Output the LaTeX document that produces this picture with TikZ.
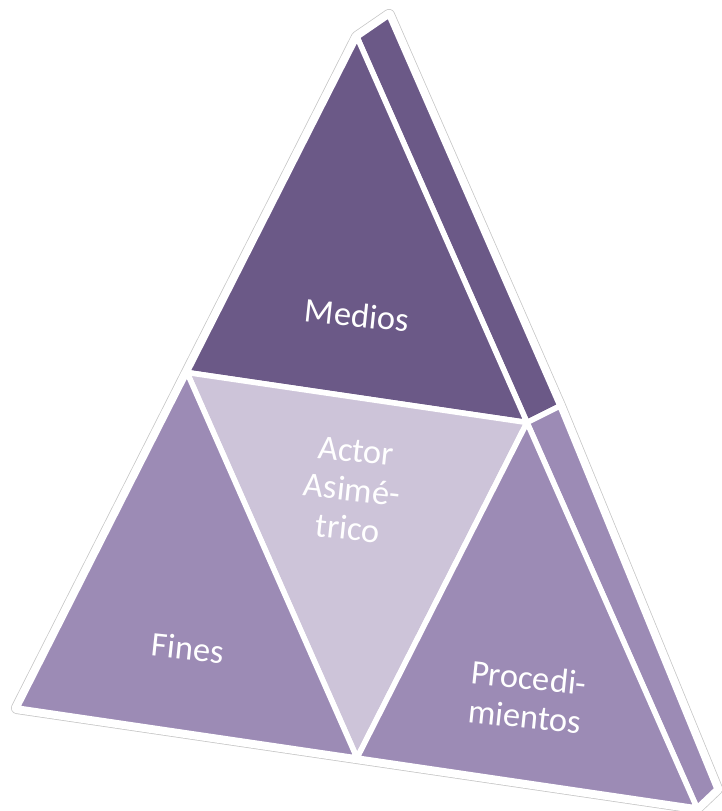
\documentclass[tikz,border=0pt]{standalone}
\usepackage{fontspec}
\setmainfont{Carlito}
\definecolor{darkp}{HTML}{6B5987}
\definecolor{medp}{HTML}{9C8BB5}
\definecolor{lightp}{HTML}{CDC4D9}
\begin{document}
\begin{tikzpicture}[x=1pt,y=-1pt,
  tile/.style={draw=white,line width=5.5pt,line join=round},
  lbl/.style={text=white,font=\fontsize{34.5}{39}\selectfont,align=center,rotate=-6,inner sep=0pt}]
\useasboundingbox (0,0) rectangle (722,811);
% vertices
\coordinate (A) at (357,37);
\coordinate (L) at (17,708);
\coordinate (R) at (697,808);
\coordinate (P) at (187,372.5);
\coordinate (Q) at (527,422.5);
\coordinate (M) at (357,758);
\coordinate (A2) at (389,15);
\coordinate (Q2) at (560,406);
\coordinate (R2) at (717,789);
% outer silhouette outline
\draw[gray!45,line width=12pt,line join=round] (A) -- (A2) -- (Q2) -- (R2) -- (R) -- (L) -- cycle;
\draw[white,fill=white,line width=10.5pt,line join=round] (A) -- (A2) -- (Q2) -- (R2) -- (R) -- (L) -- cycle;
% side faces
\fill[darkp,tile] (A) -- (A2) -- (Q2) -- (Q) -- cycle;
\fill[medp,tile] (Q) -- (Q2) -- (R2) -- (R) -- cycle;
% front tiles
\fill[darkp,tile] (A) -- (P) -- (Q) -- cycle;
\fill[lightp,tile] (P) -- (Q) -- (M) -- cycle;
\fill[medp,tile] (P) -- (L) -- (M) -- cycle;
\fill[medp,tile] (Q) -- (M) -- (R) -- cycle;
% labels
\node[lbl] (medios) at (357,315) {Medios};
\node[lbl] (actor) at (352,490) {Actor\\Asimé-\\trico};
\node[lbl] (fines) at (188,648) {Fines};
\node[lbl] (proc) at (527,697) {Procedi-\\mientos};
\end{tikzpicture}
\end{document}
